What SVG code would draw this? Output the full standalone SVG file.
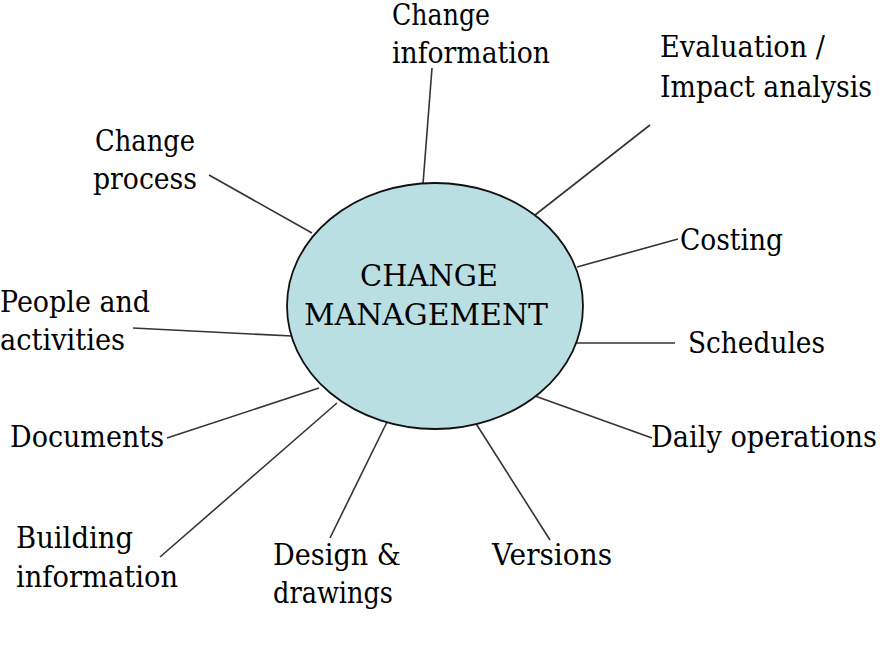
<svg xmlns="http://www.w3.org/2000/svg" width="880" height="646" viewBox="0 0 880 646">
<style>
  .t { font-size: 30px; fill: #000; }
  .conn line { stroke: #333; stroke-width: 1.6; }
  .hub { fill: #b9dfe3; stroke: #111; stroke-width: 1.8; }
</style>
<rect width="880" height="646" fill="#fff"/>
<g id="connectors" class="conn">
  <line x1="432" y1="68" x2="423" y2="184"/>
  <line x1="650" y1="125" x2="535" y2="215"/>
  <line x1="209" y1="175" x2="312" y2="233"/>
  <line x1="678" y1="239" x2="577" y2="267"/>
  <line x1="133" y1="328" x2="292" y2="336"/>
  <line x1="675" y1="343" x2="575" y2="343"/>
  <line x1="167" y1="438" x2="319" y2="388"/>
  <line x1="652" y1="438" x2="535" y2="396"/>
  <line x1="160" y1="557" x2="337" y2="403"/>
  <line x1="330" y1="538" x2="387" y2="422"/>
  <line x1="550" y1="540" x2="475" y2="422"/>
</g>
<g font-family="'DejaVu Serif', 'Liberation Serif', serif" class="t">
<g id="hub">
  <ellipse class="hub" cx="435" cy="306" rx="148" ry="123"/>
  <text x="360" y="286" textLength="138" lengthAdjust="spacingAndGlyphs">CHANGE</text>
  <text x="304" y="325" textLength="244" lengthAdjust="spacingAndGlyphs">MANAGEMENT</text>
</g>
<g id="change-information">
  <text x="392" y="25" textLength="98" lengthAdjust="spacingAndGlyphs">Change</text>
  <text x="392" y="63" textLength="158" lengthAdjust="spacingAndGlyphs">information</text>
</g>
<g id="evaluation">
  <text x="660" y="57" textLength="165" lengthAdjust="spacingAndGlyphs">Evaluation /</text>
  <text x="660" y="97" textLength="212" lengthAdjust="spacingAndGlyphs">Impact analysis</text>
</g>
<g id="change-process">
  <text x="95" y="151" textLength="100" lengthAdjust="spacingAndGlyphs">Change</text>
  <text x="93" y="189" textLength="104" lengthAdjust="spacingAndGlyphs">process</text>
</g>
<g id="costing">
  <text x="680" y="250" textLength="103" lengthAdjust="spacingAndGlyphs">Costing</text>
</g>
<g id="people">
  <text x="0" y="312" textLength="150" lengthAdjust="spacingAndGlyphs">People and</text>
  <text x="0" y="350" textLength="125" lengthAdjust="spacingAndGlyphs">activities</text>
</g>
<g id="schedules">
  <text x="688" y="353" textLength="137" lengthAdjust="spacingAndGlyphs">Schedules</text>
</g>
<g id="documents">
  <text x="10" y="447" textLength="154" lengthAdjust="spacingAndGlyphs">Documents</text>
</g>
<g id="daily-operations">
  <text x="651" y="447" textLength="226" lengthAdjust="spacingAndGlyphs">Daily operations</text>
</g>
<g id="building-information">
  <text x="16" y="548" textLength="117" lengthAdjust="spacingAndGlyphs">Building</text>
  <text x="16" y="587" textLength="162" lengthAdjust="spacingAndGlyphs">information</text>
</g>
<g id="design">
  <text x="273" y="565" textLength="128" lengthAdjust="spacingAndGlyphs">Design &amp;</text>
  <text x="273" y="603" textLength="120" lengthAdjust="spacingAndGlyphs">drawings</text>
</g>
<g id="versions">
  <text x="492" y="565" textLength="120" lengthAdjust="spacingAndGlyphs">Versions</text>
</g>
</g>
</svg>
